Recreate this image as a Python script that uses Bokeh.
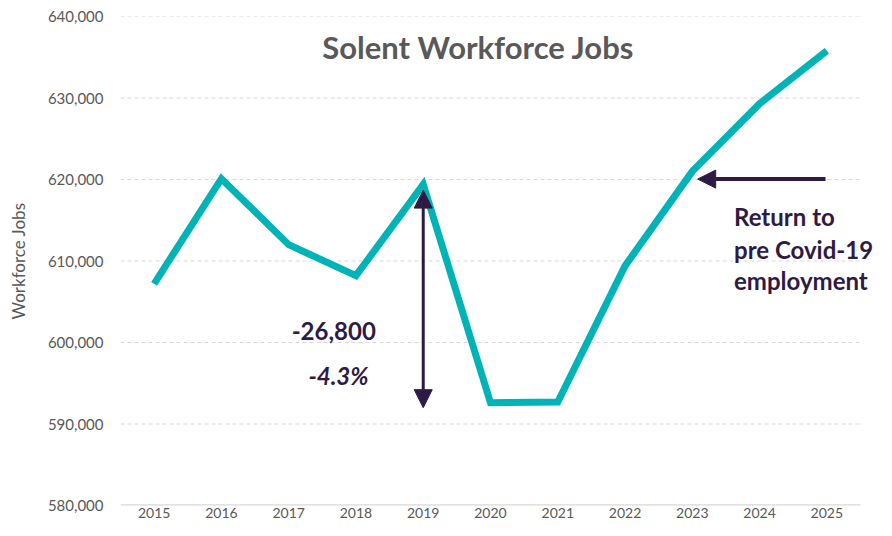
from bokeh.plotting import figure
from bokeh.models import (Range1d, FixedTicker, NumeralTickFormatter, Label,
                          Arrow, NormalHead, ColumnDataSource)
from bokeh.embed import file_html
from bokeh.resources import INLINE

years = ["2015", "2016", "2017", "2018", "2019", "2020", "2021", "2022", "2023", "2024", "2025"]
jobs = [607200, 620100, 612000, 608200, 619400, 592600, 592700, 609400, 621000, 629300, 635800]
y_ticks = [580000, 590000, 600000, 610000, 620000, 630000, 640000]

TEAL = "#00B3B7"
PURPLE = "#2D1B45"
GREY = "#595959"
GRID = "#D9D9D9"
FONT = "Lato"

n = len(years)
xs = list(range(n))
src = ColumnDataSource(dict(x=xs, y=jobs))

# frame extends a little beyond the last category so right-side text is not clipped
p = figure(width=876, height=520, output_backend="svg", toolbar_location=None,
           x_range=Range1d(-0.5, 10.738), y_range=Range1d(580000, 640000),
           min_border_left=120, min_border_right=0, min_border_top=16, min_border_bottom=14)
p.outline_line_color = None
p.background_fill_color = "white"
p.border_fill_color = "white"

# gridlines (dashed) and baseline, spanning only the category area
p.segment(x0=-0.5, x1=n - 0.5, y0=y_ticks[1:], y1=y_ticks[1:],
          line_color=GRID, line_width=1, line_dash="4 3")
p.segment(x0=-0.5, x1=n - 0.5, y0=y_ticks[0], y1=y_ticks[0],
          line_color=GRID, line_width=2.5)

p.line("x", "y", source=src, line_color=TEAL, line_width=7, line_join="miter")

# axes
p.xaxis.ticker = FixedTicker(ticks=xs)
p.xaxis.major_label_overrides = {i: y for i, y in enumerate(years)}
p.xaxis.axis_line_color = None
p.xaxis.major_tick_line_color = None
p.xaxis.minor_tick_line_color = None
p.xaxis.major_tick_out = 0
p.xaxis.major_tick_in = 0
p.xaxis.major_label_text_font = FONT
p.xaxis.major_label_text_font_size = "14px"
p.xaxis.major_label_text_color = GREY
p.xaxis.major_label_standoff = 2

p.yaxis.ticker = FixedTicker(ticks=y_ticks)
p.yaxis.formatter = NumeralTickFormatter(format="0,0")
p.yaxis.axis_line_color = None
p.yaxis.major_tick_line_color = None
p.yaxis.minor_tick_line_color = None
p.yaxis.major_tick_out = 0
p.yaxis.major_tick_in = 0
p.yaxis.major_label_text_font = FONT
p.yaxis.major_label_text_font_size = "15px"
p.yaxis.major_label_text_color = GREY
p.yaxis.major_label_standoff = 17
p.yaxis.axis_label = "Workforce Jobs"
p.yaxis.axis_label_text_font = FONT
p.yaxis.axis_label_text_font_size = "17px"
p.yaxis.axis_label_text_font_style = "normal"
p.yaxis.axis_label_text_color = GREY
p.yaxis.axis_label_standoff = 16

p.xgrid.grid_line_color = None
p.ygrid.grid_line_color = None

# title inside plot
p.add_layout(Label(x=4.82, y=636200, text="Solent Workforce Jobs", text_font=FONT,
                   text_font_size="31px", text_font_style="bold", text_color=GREY,
                   text_align="center", text_baseline="middle"))

# double arrow at 2019
p.add_layout(Arrow(x_start=4, y_start=618700, x_end=4, y_end=592000,
                   line_color=PURPLE, line_width=3,
                   start=NormalHead(size=18, fill_color=PURPLE, line_color=PURPLE),
                   end=NormalHead(size=18, fill_color=PURPLE, line_color=PURPLE)))
p.add_layout(Label(x=2.67, y=601450, text="-26,800", text_font=FONT, text_font_size="24px",
                   text_font_style="bold", text_color=PURPLE, text_align="center",
                   text_baseline="middle"))
p.add_layout(Label(x=2.74, y=595940, text="-4.3%", text_font=FONT, text_font_size="24px",
                   text_font_style="bold italic", text_color=PURPLE, text_align="center",
                   text_baseline="middle"))

# horizontal arrow
p.add_layout(Arrow(x_start=9.98, y_start=620050, x_end=8.08, y_end=620050,
                   line_color=PURPLE, line_width=4,
                   end=NormalHead(size=18, fill_color=PURPLE, line_color=PURPLE)))
for t, yy in zip(["Return to", "pre Covid-19", "employment"], [615520, 611360, 607570]):
    p.add_layout(Label(x=8.62, y=yy, text=t, text_font=FONT,
                       text_font_size="24px", text_font_style="bold", text_color=PURPLE,
                       text_align="left", text_baseline="middle"))

open("out.html", "w").write(file_html(p, INLINE))
